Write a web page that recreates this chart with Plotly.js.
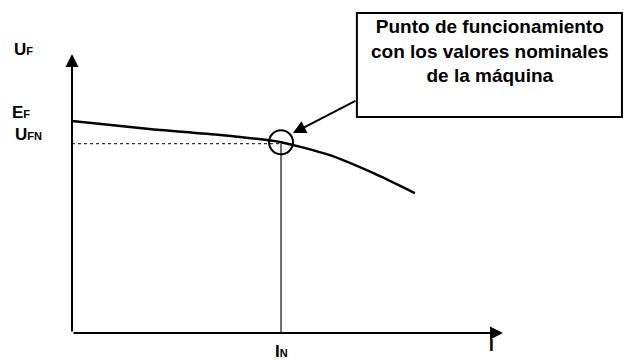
<!DOCTYPE html>
<html>
<head>
<meta charset="utf-8">
<script src="https://cdn.plot.ly/plotly-3.0.1.min.js"></script>
<style>
  body { margin: 0; background: #fff; }
  #plot { width: 625px; height: 360px; }
</style>
</head>
<body>
<div id="plot"></div>
<script>
// curva U_F(I), normalizada: I_N = 1, E_F = 1
var corriente = [0, 0.37, 0.71, 1.0, 1.23, 1.44, 1.64];
var tension = [1.0, 0.962, 0.934, 0.9, 0.84, 0.755, 0.66];

var I_N = 1.0;
var U_FN = 0.893;

var sub = function (t) { return '<span style="font-size:11px">' + t + '</span>'; };
var etiquetas_y = ['U' + sub('F'), 'E' + sub('F'), 'U' + sub('FN')];
var etiquetas_x = ['I' + sub('N'), 'I'];
var texto_caja = 'Punto de funcionamiento<br>con los valores nominales<br>de la máquina';

var fuente = 'Liberation Sans, Arial, sans-serif';

var curva = {
  x: corriente, y: tension, mode: 'lines',
  line: {color: '#000', width: 2.5, shape: 'spline', smoothing: 0.6},
  hoverinfo: 'skip'
};
// linea punteada hasta U_FN
var horiz = {
  x: [0, I_N], y: [U_FN, U_FN], mode: 'lines',
  line: {color: '#333', width: 1.3, dash: 'dot'},
  hoverinfo: 'skip'
};
// linea vertical en I_N
var vert = {
  x: [I_N, I_N], y: [0, U_FN], mode: 'lines',
  line: {color: '#222', width: 1.3},
  hoverinfo: 'skip'
};

var ejeX = {range: [0, 2.062], showgrid: false, zeroline: false, showline: false,
            showticklabels: false, ticks: '', fixedrange: true};
var ejeY = {range: [0, 1.316], showgrid: false, zeroline: false, showline: false,
            showticklabels: false, ticks: '', fixedrange: true};

function etiqueta(x, y, texto, xref) {
  return {xref: xref || 'paper', yref: 'paper', x: x, y: y, text: '<b>' + texto + '</b>',
          xanchor: 'center', yanchor: 'middle', showarrow: false,
          font: {family: fuente, size: 17, color: '#000'}};
}

var anot = [
  // ejes con flecha
  {xref: 'paper', yref: 'paper', x: 0, y: 1, axref: 'pixel', ayref: 'pixel',
   ax: 0, ay: 279, text: '', showarrow: true, arrowhead: 2, arrowsize: 1.3,
   arrowwidth: 2, arrowcolor: '#000'},
  {xref: 'paper', yref: 'paper', x: 1, y: 0, axref: 'pixel', ayref: 'pixel',
   ax: -431, ay: 0, text: '', showarrow: true, arrowhead: 2, arrowsize: 1.3,
   arrowwidth: 2, arrowcolor: '#000'},
  // flecha desde la caja al punto
  {x: 1.057, y: 0.943, ax: 64, ay: -33, text: '', showarrow: true,
   arrowhead: 2, arrowsize: 1.3, arrowwidth: 2, arrowcolor: '#000'},
  // texto de la caja
  {xref: 'paper', yref: 'paper', x: 0.97, y: 1.012, text: '<b>' + texto_caja + '</b>',
   xanchor: 'center', yanchor: 'middle', showarrow: false, align: 'center',
   font: {family: fuente, size: 19, color: '#000'}},
  // etiquetas de los ejes
  etiqueta(-0.113, 1.017, etiquetas_y[0]),
  etiqueta(-0.118, 0.79, etiquetas_y[1]),
  etiqueta(-0.1, 0.713, etiquetas_y[2]),
  etiqueta(I_N, -0.066, etiquetas_x[0], 'x'),
  etiqueta(0.974, -0.044, etiquetas_x[1])
];

var formas = [
  // caja del texto
  {type: 'rect', xref: 'paper', yref: 'paper', x0: 0.661, x1: 1.276, y0: 0.774, y1: 1.147,
   line: {color: '#000', width: 2}, fillcolor: 'rgba(0,0,0,0)'},
  // circulo en el punto nominal
  {type: 'circle', xref: 'x', yref: 'y', xsizemode: 'pixel', ysizemode: 'pixel',
   xanchor: I_N, yanchor: 0.9, x0: -12, x1: 12, y0: -12, y1: 12,
   line: {color: '#000', width: 2}}
];

var layout = {
  width: 625, height: 360,
  margin: {l: 72, r: 122, t: 54, b: 27},
  paper_bgcolor: '#fff', plot_bgcolor: '#fff',
  showlegend: false,
  xaxis: ejeX, yaxis: ejeY,
  annotations: anot, shapes: formas
};

Plotly.newPlot('plot', [curva, horiz, vert], layout, {displayModeBar: false, staticPlot: true});
</script>
</body>
</html>
